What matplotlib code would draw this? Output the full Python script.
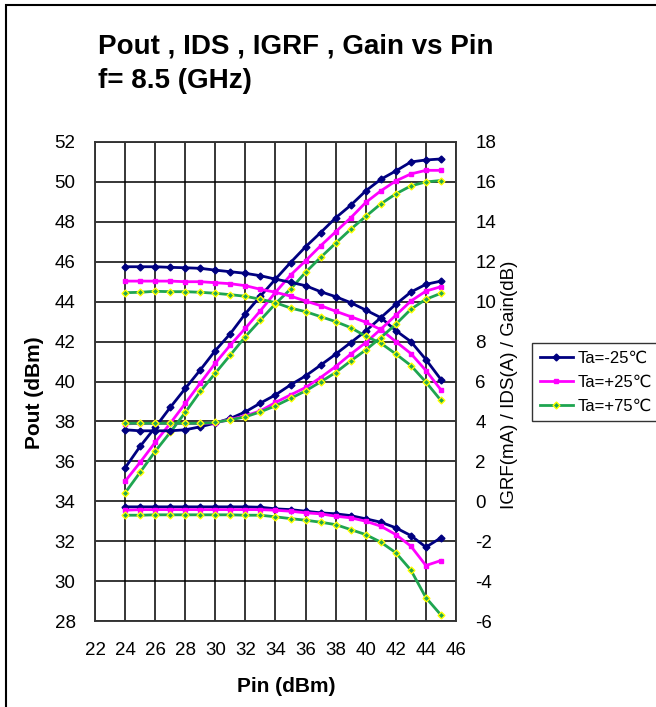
import matplotlib
matplotlib.use('Agg')
import matplotlib.pyplot as plt
from matplotlib.patches import Rectangle

plt.rcParams['font.family'] = ['Liberation Sans', 'DejaVu Sans']
plt.rcParams['axes.unicode_minus'] = False

# input power sweep (dBm)
pin = [24, 25, 26, 27, 28, 29, 30, 31, 32, 33, 34, 35, 36, 37, 38, 39, 40, 41, 42, 43, 44, 45]

# Pout (dBm), left axis
pout_m25 = [35.67, 36.75, 37.7, 38.7, 39.65, 40.58, 41.55, 42.4, 43.4, 44.28, 45.13,
            45.96, 46.75, 47.46, 48.2, 48.83, 49.55, 50.13, 50.55, 51.0, 51.1, 51.15]
pout_p25 = [35.0, 35.95, 36.95, 37.9, 38.9, 39.92, 40.92, 41.83, 42.67, 43.55, 44.47,
            45.33, 46.05, 46.8, 47.5, 48.2, 48.97, 49.55, 50.05, 50.4, 50.58, 50.58]
pout_p75 = [34.42, 35.45, 36.5, 37.45, 38.45, 39.5, 40.42, 41.33, 42.25, 43.08, 43.9,
            44.63, 45.47, 46.22, 46.93, 47.63, 48.27, 48.9, 49.4, 49.8, 50.0, 50.07]

# Gain (dB), right axis
gain_m25 = [11.75, 11.75, 11.75, 11.72, 11.7, 11.67, 11.58, 11.5, 11.42, 11.3, 11.13,
            10.97, 10.8, 10.5, 10.25, 9.95, 9.58, 9.2, 8.55, 8.0, 7.1, 6.1]
gain_p25 = [11.03, 11.03, 11.03, 11.03, 11.0, 11.0, 10.95, 10.9, 10.8, 10.62, 10.47,
            10.28, 10.03, 9.8, 9.52, 9.25, 8.97, 8.6, 8.0, 7.4, 6.55, 5.58]
gain_p75 = [10.45, 10.47, 10.52, 10.5, 10.5, 10.47, 10.42, 10.35, 10.27, 10.12, 9.95,
            9.68, 9.5, 9.25, 9.0, 8.7, 8.27, 7.92, 7.38, 6.8, 5.97, 5.05]

# IDS (A), right axis
ids_m25 = [3.58, 3.53, 3.53, 3.53, 3.58, 3.73, 3.92, 4.15, 4.48, 4.92, 5.33,
           5.83, 6.28, 6.82, 7.37, 7.95, 8.53, 9.2, 9.87, 10.48, 10.87, 11.03]
ids_p25 = [3.88, 3.9, 3.9, 3.9, 3.9, 3.9, 3.93, 4.1, 4.28, 4.53, 4.95,
           5.33, 5.7, 6.2, 6.75, 7.37, 7.95, 8.62, 9.32, 10.03, 10.53, 10.75]
ids_p75 = [3.9, 3.9, 3.9, 3.9, 3.9, 3.9, 3.95, 4.08, 4.23, 4.48, 4.78,
           5.15, 5.53, 5.98, 6.45, 7.03, 7.58, 8.2, 8.87, 9.62, 10.12, 10.42]

# IGRF (mA), right axis
igrf_m25 = [-0.28, -0.28, -0.28, -0.28, -0.28, -0.28, -0.28, -0.28, -0.28, -0.3, -0.38,
            -0.42, -0.5, -0.58, -0.63, -0.72, -0.88, -1.05, -1.33, -1.72, -2.3, -1.83]
igrf_p25 = [-0.45, -0.42, -0.42, -0.42, -0.42, -0.42, -0.42, -0.42, -0.42, -0.42, -0.45,
            -0.5, -0.58, -0.63, -0.75, -0.83, -1.0, -1.25, -1.67, -2.25, -3.22, -2.97]
igrf_p75 = [-0.7, -0.7, -0.68, -0.68, -0.68, -0.68, -0.68, -0.68, -0.7, -0.7, -0.78,
            -0.87, -0.95, -1.05, -1.17, -1.42, -1.67, -2.05, -2.58, -3.45, -4.83, -5.7]

labels = ['Ta=-25℃', 'Ta=+25℃', 'Ta=+75℃']
styles = [
    dict(color='#000080', marker='D', ms=3.5, mfc='#000080', mec='#000080'),
    dict(color='#FF00FF', marker='s', ms=3.5, mfc='#FF00FF', mec='#FF00FF'),
    dict(color='#1EA550', marker='D', ms=3.5, mfc='#1EA550', mec='#FFFF00', mew=1.0),
]

W, H = 656, 707
fig = plt.figure(figsize=(W / 100, H / 100), dpi=100)
ax = fig.add_axes([95 / W, 1 - 621 / H, 361 / W, 479 / H])
ax2 = ax.twinx()

ax.set_xlim(22, 46)
ax.set_ylim(28, 52)
ax.set_xticks(range(22, 47, 2))
ax.set_yticks(range(28, 53, 2))
ax2.set_ylim(-6, 18)
ax2.set_yticks(range(-6, 19, 2))

ax.grid(True, color='black', lw=1.1)
ax.set_axisbelow(True)
for a in (ax, ax2):
    for s in a.spines.values():
        s.set_color('#333333')
        s.set_linewidth(1.1)
ax.tick_params(axis='both', length=0, labelsize=13.5)
ax.tick_params(axis='x', pad=15)
ax.tick_params(axis='y', pad=14)
ax2.tick_params(axis='y', length=0, labelsize=13.5, pad=14)

handles = []
for i in range(3):
    st = styles[i]
    po = [pout_m25, pout_p25, pout_p75][i]
    ga = [gain_m25, gain_p25, gain_p75][i]
    ids = [ids_m25, ids_p25, ids_p75][i]
    ig = [igrf_m25, igrf_p25, igrf_p75][i]
    h, = ax.plot(pin, po, lw=2, **st)
    ax2.plot(pin, ga, lw=2, **st)
    ax2.plot(pin, ids, lw=2, **st)
    ax2.plot(pin, ig, lw=2, **st)
    handles.append(h)

fig.text(98 / W, 1 - 46 / H, 'Pout , IDS , IGRF , Gain vs Pin', fontsize=20,
         fontweight='bold', va='center', ha='left')
fig.text(98 / W, 1 - 81 / H, 'f= 8.5 (GHz)', fontsize=20,
         fontweight='bold', va='center', ha='left')

fig.text(286 / W, 1 - 686 / H, 'Pin (dBm)', fontsize=15, fontweight='bold',
         ha='center', va='center')
fig.text(35 / W, 1 - 393 / H, 'Pout (dBm)', fontsize=15, fontweight='bold',
         ha='center', va='center', rotation=90)
fig.text(510 / W, 1 - 385 / H, 'IGRF(mA) / IDS(A) / Gain(dB)', fontsize=13.5,
         ha='center', va='center', rotation=90)

leg = fig.legend(handles, labels, loc='upper left', bbox_to_anchor=(532 / W, 1 - 343 / H),
                 fontsize=12, frameon=True, fancybox=False, edgecolor='black',
                 handlelength=2.0, handletextpad=0.3, labelspacing=0.55,
                 borderpad=0.45, borderaxespad=0)
leg.get_frame().set_linewidth(1.0)

# outer chart frame, cut off at right and bottom in the original
fig.patches.append(Rectangle((6 / W, -0.1), 1.2, 1.1 - 5 / H, transform=fig.transFigure,
                             fill=False, ec='black', lw=1.5))

fig.savefig('out.png', dpi=100)
